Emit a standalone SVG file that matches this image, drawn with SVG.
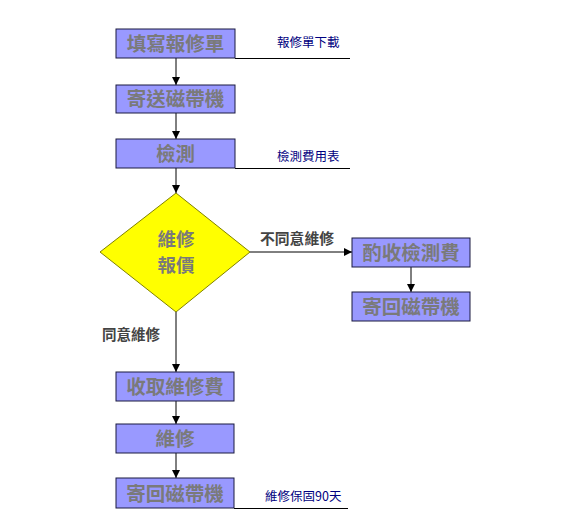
<svg xmlns="http://www.w3.org/2000/svg" width="564" height="532" viewBox="0 0 564 532">
<style>
.box{fill:#9999FF;stroke:#1a1a40;stroke-width:1}
.bt{font-family:"Noto Sans CJK TC","Noto Sans CJK SC",sans-serif;font-size:19.5px;font-weight:bold;fill:#7a7a7a;text-anchor:middle}
.dt{font-size:18.5px}
.note{font-family:"Noto Sans CJK TC","Noto Sans CJK SC",sans-serif;font-size:12.5px;fill:#000080}
.lbl{font-family:"Noto Sans CJK TC","Noto Sans CJK SC",sans-serif;font-size:14.5px;font-weight:bold;fill:#444}
.ln{stroke:#000;stroke-width:1;fill:none}
</style>
<defs>
<marker id="ah" viewBox="0 0 10 10" refX="10" refY="5" markerWidth="8" markerHeight="8" markerUnits="userSpaceOnUse" orient="auto">
<path d="M0,0 L10,5 L0,10 z" fill="#000"/>
</marker>
</defs>
<rect width="564" height="532" fill="#fff"/>
<g id="connectors">
<line class="ln" x1="176" y1="58" x2="176" y2="85" marker-end="url(#ah)"/>
<line class="ln" x1="176" y1="113" x2="176" y2="139" marker-end="url(#ah)"/>
<line class="ln" x1="176" y1="168" x2="176" y2="193" marker-end="url(#ah)"/>
<line class="ln" x1="250" y1="252" x2="352" y2="252" marker-end="url(#ah)"/>
<line class="ln" x1="411" y1="267" x2="411" y2="292" marker-end="url(#ah)"/>
<line class="ln" x1="176" y1="312" x2="176" y2="372" marker-end="url(#ah)"/>
<line class="ln" x1="176" y1="401" x2="176" y2="424" marker-end="url(#ah)"/>
<line class="ln" x1="176" y1="453" x2="176" y2="478" marker-end="url(#ah)"/>
<line class="ln" x1="235" y1="58.5" x2="350" y2="58.5"/>
<line class="ln" x1="235" y1="168.5" x2="350" y2="168.5"/>
<line class="ln" x1="234" y1="508.5" x2="348" y2="508.5"/>
<text class="lbl" x="260" y="244" textLength="74" lengthAdjust="spacingAndGlyphs">不同意維修</text>
<text class="lbl" x="102" y="340" textLength="58" lengthAdjust="spacingAndGlyphs">同意維修</text>
</g>
<g id="n1"><rect class="box" x="116" y="29" width="119" height="29"/><text class="bt" x="175.5" y="51">填寫報修單</text></g>
<g id="note1"><text class="note" x="277" y="47">報修單下載</text></g>
<g id="n2"><rect class="box" x="116" y="85" width="119" height="28"/><text class="bt" x="175.5" y="106">寄送磁帶機</text></g>
<g id="n3"><rect class="box" x="116" y="139" width="119" height="29"/><text class="bt" x="175.5" y="161">檢測</text></g>
<g id="note3"><text class="note" x="277" y="161">檢測費用表</text></g>
<g id="d1"><polygon points="176,193 250,252 176,312 100,252" fill="#FFFF00" stroke="#808000" stroke-width="1"/><text class="bt dt" x="176" y="246">維修</text><text class="bt dt" x="176" y="272">報價</text></g>
<g id="n4"><rect class="box" x="352" y="238" width="118" height="29"/><text class="bt" x="411" y="260">酌收檢測費</text></g>
<g id="n5"><rect class="box" x="352" y="292" width="118" height="29"/><text class="bt" x="411" y="314">寄回磁帶機</text></g>
<g id="n6"><rect class="box" x="116" y="372" width="118" height="29"/><text class="bt" x="175" y="394">收取維修費</text></g>
<g id="n7"><rect class="box" x="116" y="424" width="118" height="29"/><text class="bt" x="175" y="446">維修</text></g>
<g id="n8"><rect class="box" x="116" y="478" width="118" height="30"/><text class="bt" x="175" y="501">寄回磁帶機</text></g>
<g id="note8"><text class="note" x="265" y="501">維修保固90天</text></g>
</svg>
